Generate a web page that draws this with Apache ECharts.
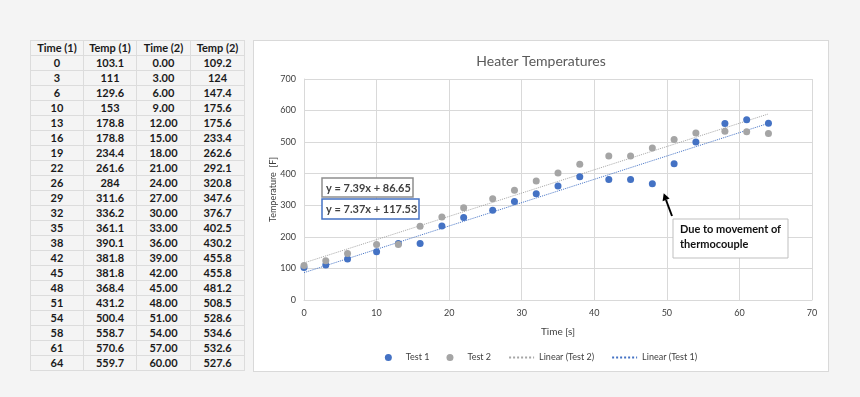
<!DOCTYPE html>
<html>
<head>
<meta charset="utf-8">
<script src="https://cdn.jsdelivr.net/npm/echarts@6/dist/echarts.min.js"></script>
<style>
    html, body { margin: 0; padding: 0; background: #f4f4f4; width: 860px; height: 397px; overflow: hidden; }
    #dataTable { position: absolute; left: 30px; top: 40px; border-collapse: collapse; font-family: Lato, sans-serif; font-size: 11px; font-weight: bold; color: #1a1a1a; }
    #dataTable td { border: 1px solid #dcdcdc; height: 14px; padding: 0; text-align: center; line-height: 14px; }
    #dataTable td.c0 { width: 52px; }
    #dataTable td.c1 { width: 52px; }
    #dataTable td.c2 { width: 53px; }
    #dataTable td.c3 { width: 53px; }
    #chartDiv { position: absolute; left: 253px; top: 40px; width: 576px; height: 332px; background: #fff; border: 1px solid #d9d9d9; box-sizing: border-box; }
</style>
</head>
<body>
<table id="dataTable"></table>
<div id="chartDiv"></div>
<script>
var headers = ['Time (1)', 'Temp (1)', 'Time (2)', 'Temp (2)'];
var time1 = [0, 3, 6, 10, 13, 16, 19, 22, 26, 29, 32, 35, 38, 42, 45, 48, 51, 54, 58, 61, 64];
var temp1 = [103.1, 111, 129.6, 153, 178.8, 178.8, 234.4, 261.6, 284, 311.6, 336.2, 361.1, 390.1, 381.8, 381.8, 368.4, 431.2, 500.4, 558.7, 570.6, 559.7];
var time2 = [0, 3, 6, 9, 12, 15, 18, 21, 24, 27, 30, 33, 36, 39, 42, 45, 48, 51, 54, 57, 60];
var temp2 = [109.2, 124, 147.4, 175.6, 175.6, 233.4, 262.6, 292.1, 320.8, 347.6, 376.7, 402.5, 430.2, 455.8, 455.8, 481.2, 508.5, 528.6, 534.6, 532.6, 527.6];
var eqText1 = 'y = 7.39x + 86.65';
var eqText2 = 'y = 7.37x + 117.53';
var noteLines = ['Due to movement of', 'thermocouple'];

// table on the left
var html = '<tr>' + headers.map(function (h, i) { return '<td class="c' + i + '">' + h + '</td>'; }).join('') + '</tr>';
for (var i = 0; i < time1.length; i++) {
    html += '<tr><td class="c0">' + time1[i] + '</td><td class="c1">' + temp1[i] + '</td><td class="c2">' +
        time2[i].toFixed(2) + '</td><td class="c3">' + temp2[i] + '</td></tr>';
}
document.getElementById('dataTable').innerHTML = html;

// chart plots both tests against Time (1), like the spreadsheet does
function pairs(xs, ys) {
    return xs.map(function (x, i) { return [x, ys[i]]; });
}
function trend(xs, ys) {
    var n = xs.length, sx = 0, sy = 0, sxx = 0, sxy = 0;
    for (var i = 0; i < n; i++) { sx += xs[i]; sy += ys[i]; sxx += xs[i] * xs[i]; sxy += xs[i] * ys[i]; }
    var b = (n * sxy - sx * sy) / (n * sxx - sx * sx);
    var a = (sy - b * sx) / n;
    var x0 = Math.min.apply(null, xs), x1 = Math.max.apply(null, xs);
    return [[x0, a + b * x0], [x1, a + b * x1]];
}

var blue = '#4472c4', gray = '#a5a5a5', txt = '#595959', lbl = '#404040';
var font = 'Lato, sans-serif';

var chart = echarts.init(document.getElementById('chartDiv'));
chart.setOption({
    animation: false,
    title: {
        text: 'Heater Temperatures',
        left: 'center',
        top: 8,
        textStyle: { fontFamily: font, fontSize: 14, fontWeight: 'normal', color: txt }
    },
    legend: {
        bottom: 4,
        left: 'center',
        itemWidth: 25,
        itemHeight: 7,
        itemGap: 17,
        textStyle: { fontFamily: font, fontSize: 9, color: lbl },
        data: [
            { name: 'Test 1', icon: 'circle' },
            { name: 'Test 2', icon: 'circle' },
            { name: 'Linear (Test 2)', itemStyle: { opacity: 0 } },
            { name: 'Linear (Test 1)', itemStyle: { opacity: 0 } }
        ]
    },
    grid: { left: 50, top: 38, right: 16, bottom: 71 },
    xAxis: {
        type: 'value',
        min: 0, max: 70, interval: 10,
        name: 'Time [s]',
        nameLocation: 'middle',
        nameGap: 27,
        nameTextStyle: { fontFamily: font, fontSize: 10, color: lbl },
        axisLine: { lineStyle: { color: '#d9d9d9' } },
        axisTick: { show: false },
        axisLabel: { fontFamily: font, fontSize: 9, color: lbl, margin: 9 },
        splitLine: { lineStyle: { color: '#d9d9d9' } }
    },
    yAxis: {
        type: 'value',
        min: 0, max: 700, interval: 100,
        name: 'Temperature  [F]',
        nameLocation: 'middle',
        nameGap: 26,
        nameMoveOverlap: false,
        nameTextStyle: { fontFamily: font, fontSize: 9, color: lbl },
        axisLine: { show: true, lineStyle: { color: '#d9d9d9' } },
        axisTick: { show: false },
        axisLabel: { fontFamily: font, fontSize: 9, color: lbl, margin: 8 },
        splitLine: { lineStyle: { color: '#d9d9d9' } }
    },
    series: [
        {
            name: 'Test 1', type: 'scatter', symbolSize: 7, z: 3,
            itemStyle: { color: blue, opacity: 1 },
            data: pairs(time1, temp1)
        },
        {
            name: 'Test 2', type: 'scatter', symbolSize: 7, z: 3,
            itemStyle: { color: gray, opacity: 1 },
            data: pairs(time1, temp2)
        },
        {
            name: 'Linear (Test 2)', type: 'line', symbol: 'none', z: 2,
            lineStyle: { color: gray, width: 1, type: 'dotted' },
            itemStyle: { color: gray },
            data: trend(time1, temp2)
        },
        {
            name: 'Linear (Test 1)', type: 'line', symbol: 'none', z: 2,
            lineStyle: { color: blue, width: 1, type: 'dotted' },
            itemStyle: { color: blue },
            data: trend(time1, temp1)
        }
    ],
    graphic: [
        {
            type: 'rect', z: 100, shape: { x: 68, y: 137, width: 91, height: 19 },
            style: { fill: '#fff', stroke: '#8f8f8f', lineWidth: 1.5 }
        },
        {
            type: 'text', z: 101, x: 72, y: 147,
            style: { text: eqText1, font: 'bold 11px ' + font, fill: '#404040', verticalAlign: 'middle' }
        },
        {
            type: 'rect', z: 100, shape: { x: 68, y: 158, width: 97, height: 20 },
            style: { fill: '#fff', stroke: blue, lineWidth: 1.5 }
        },
        {
            type: 'text', z: 101, x: 72, y: 168,
            style: { text: eqText2, font: 'bold 11px ' + font, fill: '#404040', verticalAlign: 'middle' }
        },
        {
            type: 'rect', z: 100, shape: { x: 419, y: 178, width: 115, height: 39 },
            style: { fill: '#fff', stroke: '#bfbfbf', lineWidth: 1 }
        },
        {
            type: 'text', z: 101, x: 426, y: 188,
            style: { text: noteLines[0], font: 'bold 11px ' + font, fill: '#111', verticalAlign: 'middle' }
        },
        {
            type: 'text', z: 101, x: 426, y: 203,
            style: { text: noteLines[1], font: 'bold 11px ' + font, fill: '#111', verticalAlign: 'middle' }
        },
        {
            type: 'line', z: 100, shape: { x1: 418, y1: 175, x2: 412, y2: 159 },
            style: { stroke: '#000', lineWidth: 2 }
        },
        {
            type: 'polygon', z: 100, shape: { points: [[409.7, 152.3], [415.6, 157.6], [408.6, 160.2]] },
            style: { fill: '#000' }
        }
    ]
});
</script>
</body>
</html>
